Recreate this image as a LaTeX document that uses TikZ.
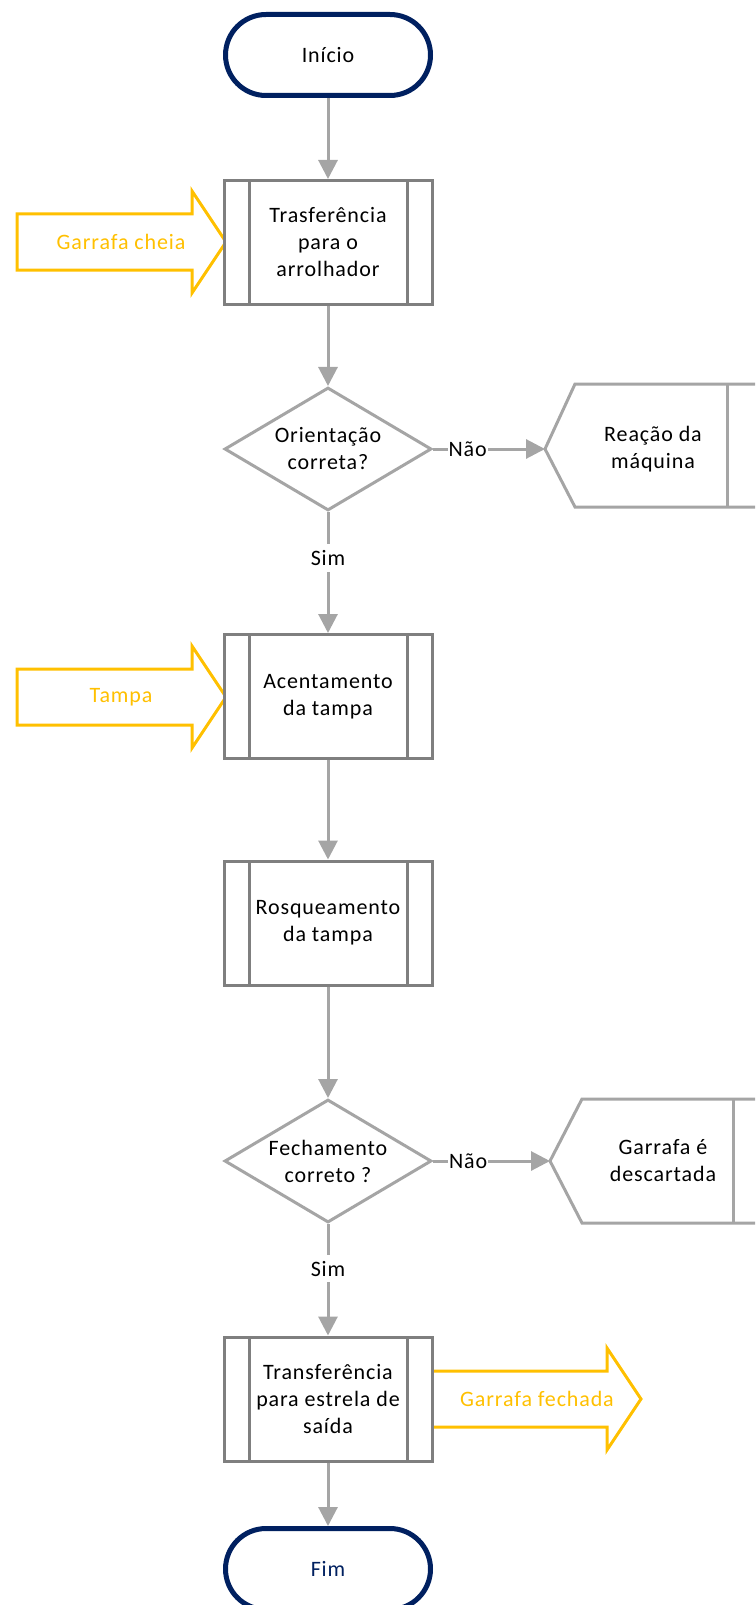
\documentclass[tikz,border=0pt]{standalone}
\usepackage{fontspec}
\setmainfont{Carlito}[LetterSpace=4]
\usetikzlibrary{shapes.geometric,arrows.meta}
\definecolor{navy}{HTML}{002060}
\definecolor{lineg}{HTML}{A5A5A5}
\definecolor{boxg}{HTML}{7F7F7F}
\definecolor{gold}{HTML}{FFC000}

\begin{document}
\begin{tikzpicture}[x=1pt,y=-1pt,
  every node/.style={font=\fontsize{22}{27}\selectfont, align=center, inner sep=0pt},
  terminal/.style={draw=navy, line width=5pt, rounded corners=40.5pt,
    minimum width=205pt, minimum height=81pt, fill=white},
  subproc/.style={draw=boxg, line width=3pt, minimum width=208pt,
    minimum height=124pt, fill=white,
    path picture={\draw[boxg, line width=3pt]
      ([xshift=25pt]path picture bounding box.north west) --
      ([xshift=25pt]path picture bounding box.south west)
      ([xshift=-25pt]path picture bounding box.north east) --
      ([xshift=-25pt]path picture bounding box.south east);}},
  decision/.style={diamond, aspect=1.68, draw=lineg, line width=3pt,
    minimum width=207pt, minimum height=123pt, fill=white},
  flow/.style={draw=lineg, line width=3pt, -{Triangle[length=19pt,width=19pt]}},
  lbl/.style={fill=white, inner xsep=1pt, inner ysep=6pt},
  feed/.style={draw=gold, line width=3pt, fill=white, line join=miter},
  feedtext/.style={text=gold},
  sidebox/.style={draw=lineg, line width=3pt}
]
\useasboundingbox (0,0) rectangle (755,1605);
\clip (0,0) rectangle (755,1605);

% material entering and leaving the line
\draw[feed] (17,214) -- (192,214) -- (192,191) -- (226,242) -- (192,293)
  -- (192,270) -- (17,270) -- cycle;
\node[feedtext] (in1) at (121,242) {Garrafa cheia};
\draw[feed] (17,669) -- (192,669) -- (192,646) -- (226,697) -- (192,748)
  -- (192,725) -- (17,725) -- cycle;
\node[feedtext] (in2) at (121,697) {Tampa};
\draw[feed] (431,1371) -- (607,1371) -- (607,1348) -- (641,1399) -- (607,1450)
  -- (607,1427) -- (431,1427) -- cycle;
\node[feedtext] (out1) at (537,1399) {Garrafa fechada};

% main flow
\node[terminal] (ini) at (328,55) {Início};
\node[subproc] (p1) at (328,242.5) {Trasferência\\para o\\arrolhador};
\node[decision] (d1) at (328,449) {Orientação\\correta?};
\node[subproc] (p2) at (328,696.5) {Acentamento\\da tampa};
\node[subproc] (p3) at (328,923) {Rosqueamento\\da tampa};
\node[decision] (d2) at (328,1161) {Fechamento\\correto ?};
\node[subproc] (p4) at (328,1399) {Transferência\\para estrela de\\saída};
\node[terminal, text=navy] (fim) at (328,1569) {Fim};

% side outcomes
\draw[sidebox] (770,384) -- (575,384) -- (545,449) -- (575,507) -- (770,507);
\draw[sidebox] (727,384) -- (727,507);
\coordinate (reacin) at (545,449);
\node (reac) at (653,449) {Reação da\\máquina};

\draw[sidebox] (770,1099) -- (582,1099) -- (550,1161) -- (582,1223) -- (770,1223);
\draw[sidebox] (733,1099) -- (733,1223);
\coordinate (descin) at (550,1161);
\node (desc) at (663,1161) {Garrafa é\\descartada};

% connectors
\draw[flow] (ini) -- (p1);
\draw[flow] (p1) -- (d1);
\draw[flow] (d1) -- node[lbl, pos=0.38] {Sim} (p2);
\draw[flow] (d1.east) -- node[lbl, pos=0.31] {Não} (reacin);
\draw[flow] (p2) -- (p3);
\draw[flow] (p3) -- (d2);
\draw[flow] (d2) -- node[lbl, pos=0.4] {Sim} (p4);
\draw[flow] (d2.east) -- node[lbl, pos=0.3] {Não} (descin);
\draw[flow] (p4) -- (fim);
\end{tikzpicture}
\end{document}
